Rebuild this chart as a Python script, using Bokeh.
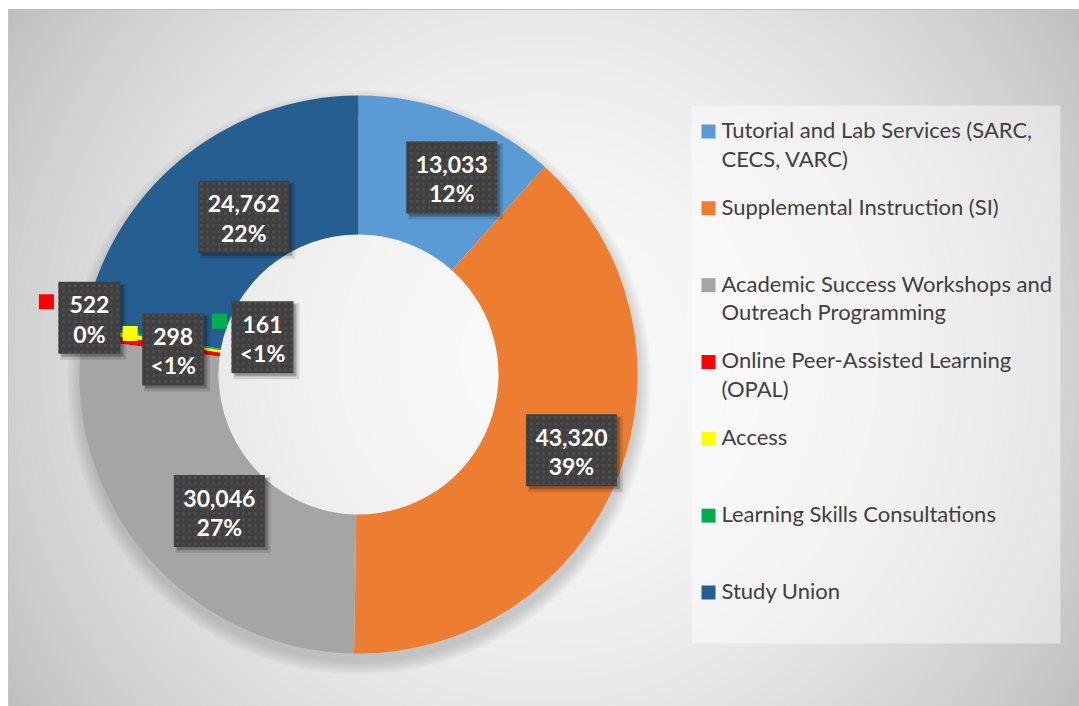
import numpy as np
from bokeh.plotting import figure
from bokeh.models import Range1d
from bokeh.core.properties import value
from bokeh.embed import file_html
from bokeh.resources import INLINE

# ---------------- data ----------------
categories = [
    "Tutorial and Lab Services (SARC,\nCECS, VARC)",
    "Supplemental Instruction (SI)",
    "Academic Success Workshops and\nOutreach Programming",
    "Online Peer-Assisted Learning\n(OPAL)",
    "Access",
    "Learning Skills Consultations",
    "Study Union",
]
values = [13033, 43320, 30046, 522, 298, 161, 24762]
pct_labels = ["12%", "39%", "27%", "0%", "<1%", "<1%", "22%"]
colors = ["#5B9BD5", "#ED7D31", "#A5A5A5", "#FF0000", "#FFFF00", "#00B050", "#255E91"]

# ---------------- layout ----------------
W, H = 1079, 706
TOP = H                  # data y = TOP - screen y


def sy(screen_y):
    return TOP - screen_y


CX, CY = 358, sy(374)
R_OUT, R_IN = 279, 140
# label placement (radius from centre, angle nudge in degrees) per slice
label_r = [218, 226, 195, 275, 187, 103, 195]
label_nudge = [4.4, -1.8, -3.6, 3.7, -1.8, 11.0, 3.7]
show_key = [False, False, False, True, True, True, False]

p = figure(width=W, height=H, x_range=Range1d(0, W), y_range=Range1d(0, H),
           output_backend="svg", toolbar_location=None, min_border=0,
           x_axis_location=None, y_axis_location=None)
p.grid.visible = False
p.outline_line_color = None
p.background_fill_color = "white"
p.border_fill_color = "white"

# radial gradient chart area background (starts at screen x=8, y=9)
AX0, AY0 = 8, 9
AW, AH = W - AX0, H - AY0
xs = np.arange(AW) + AX0 + 0.5
ys_data = np.arange(AH) + 0.5
XX, YY = np.meshgrid(xs, ys_data)
SY = TOP - YY
d = np.sqrt((XX - 543) ** 2 + (SY - 357) ** 2) / 638.0
d = np.clip(d, 0, 1)
g = (249 - 58 * d ** 2).astype(np.uint32)
img = (255 << 24) | (g << 16) | (g << 8) | g
p.image_rgba(image=[img.astype(np.uint32)], x=AX0, y=0, dw=AW, dh=AH)
p.segment(x0=AX0, y0=sy(AY0), x1=W, y1=sy(AY0), line_color="#bdbdbd", line_width=1)
p.segment(x0=AX0, y0=sy(AY0), x1=AX0, y1=0, line_color="#c4c4c4", line_width=1)

# soft shadow beneath the donut
for k in range(7):
    p.annulus(x=CX + 1, y=CY - 8, inner_radius=R_OUT - 12, outer_radius=R_OUT + 1 + 2.0 * k,
              fill_color="black", fill_alpha=0.022, line_color=None)

# donut
vals = np.array(values, dtype=float)
frac = vals / vals.sum()
cum = np.cumsum(frac)
start = np.pi / 2 - 2 * np.pi * (cum - frac)
end = np.pi / 2 - 2 * np.pi * cum
p.annular_wedge(x=CX, y=CY, inner_radius=R_IN, outer_radius=R_OUT,
                start_angle=list(start), end_angle=list(end), direction="clock",
                fill_color=colors, line_color=None)

# data labels
theta = np.deg2rad(360 * (cum - frac / 2) + np.array(label_nudge))
lx = CX + np.array(label_r) * np.sin(theta)
ly = CY + np.array(label_r) * np.cos(theta)
val_strs = [f"{v:,}" for v in values]
bw = np.array([91 if v >= 1000 else 62 for v in values])
BH = 72

p.rect(x=lx + 4, y=ly - 4, width=bw + 4, height=BH + 4, fill_color="black", fill_alpha=0.12, line_color=None)
p.rect(x=lx + 3, y=ly - 3, width=bw, height=BH, fill_color="black", fill_alpha=0.25, line_color=None)
p.rect(x=lx, y=ly, width=bw, height=BH, fill_color="#404040", line_color=None,
       hatch_pattern="dot", hatch_color="#4f4f4f", hatch_scale=6, hatch_weight=1)
p.text(x=lx, y=ly + 13, text=val_strs, text_font=value("Lato"), text_font_style="bold",
       text_font_size="23px", text_color="white", text_align="center", text_baseline="middle")
p.text(x=lx, y=ly - 16, text=pct_labels, text_font=value("Lato"), text_font_style="bold",
       text_font_size="23px", text_color="white", text_align="center", text_baseline="middle")

kx = [x - w / 2 - 12 for x, w, s in zip(lx, bw, show_key) if s]
ky = [y + BH / 2 - 20 for y, s in zip(ly, show_key) if s]
kc = [c for c, s in zip(colors, show_key) if s]
p.scatter(x=kx, y=ky, marker="square", size=15, fill_color=kc, line_color=None)

# legend
p.quad(left=691, right=1060, top=sy(105), bottom=sy(643), fill_color="white", fill_alpha=0.45,
       line_color=None)
lx_txt, ly_txt, lt = [], [], []
mk_y = []
for i, lab in enumerate(categories):
    y0 = 129 + i * 76.83
    mk_y.append(sy(y0 + 2))
    for j, line in enumerate(lab.split("\n")):
        lx_txt.append(721)
        ly_txt.append(sy(y0 + j * 28.5))
        lt.append(line)
p.scatter(x=[708] * len(categories), y=mk_y, marker="square", size=14, fill_color=colors, line_color=None)
p.text(x=lx_txt, y=ly_txt, text=lt, text_font=value("Lato"), text_font_size="22px",
       text_color="#404040", text_align="left", text_baseline="middle")

open("out.html", "w").write(file_html(p, INLINE))
